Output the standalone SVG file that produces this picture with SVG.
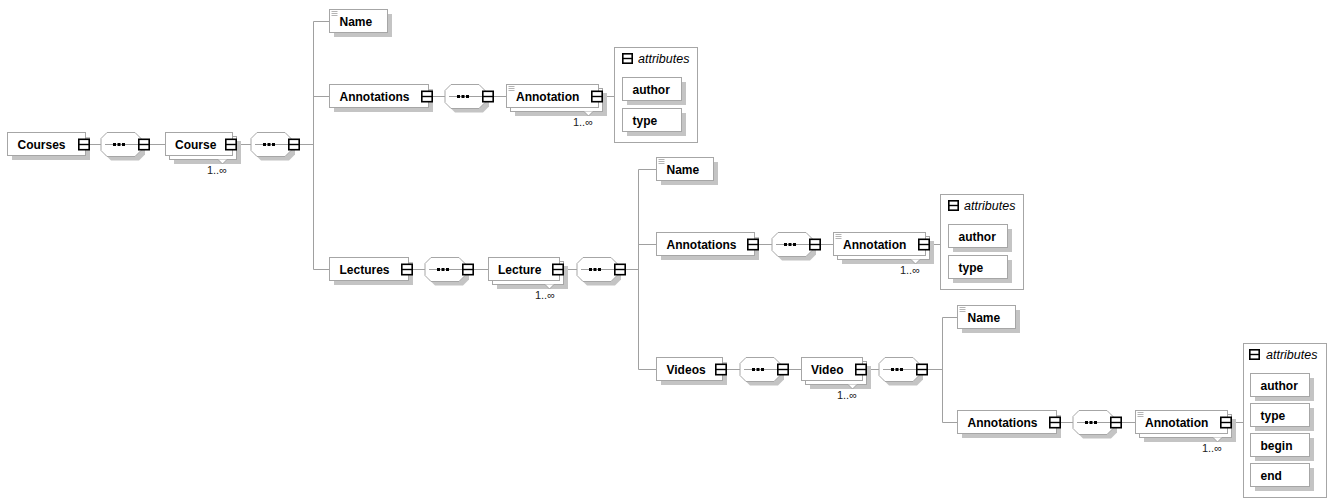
<svg xmlns="http://www.w3.org/2000/svg" xmlns:xlink="http://www.w3.org/1999/xlink" width="1336" height="502" viewBox="0 0 1336 502">
  <style>
    .bg { fill: #ffffff; }
    .box { fill: #ffffff; stroke: #a6a6a6; stroke-width: 1; }
    .shd { fill: #c4c4c4; stroke: none; }
    .frame { fill: #ffffff; stroke: #a6a6a6; stroke-width: 1; }
    .ln { fill: none; stroke: #a0a0a0; stroke-width: 1; }
    .doc { fill: none; stroke: #b4b4b4; stroke-width: 1; }
    .lbl { font-family: "Liberation Sans", Arial, sans-serif; font-size: 12px; font-weight: bold; fill: #000; }
    .occ { font-family: "Liberation Sans", Arial, sans-serif; font-size: 11px; fill: #222; }
    .hdr { font-family: "Liberation Sans", Arial, sans-serif; font-size: 12.5px; font-style: italic; fill: #000; }
  </style>
  <defs>
    <!-- collapse toggle: square with a bar -->
    <g id="minus">
      <rect x="0.8" y="-5.2" width="10.4" height="10.4" fill="#fff" stroke="#000" stroke-width="1.6"/>
      <line x1="0.8" y1="0" x2="11.2" y2="0" stroke="#000" stroke-width="1.4"/>
    </g>
    <!-- small toggle used in attribute headers -->
    <g id="minusSmall">
      <rect x="0.8" y="-4.7" width="9.4" height="9.4" fill="#fff" stroke="#000" stroke-width="1.6"/>
      <line x1="0.8" y1="0" x2="10.2" y2="0" stroke="#000" stroke-width="1.4"/>
    </g>
    <!-- sequence compositor (origin: left edge, vertical centre) -->
    <g id="seq">
      <polygon class="shd" points="10,-8 38,-8 44,-2 44,10 38,16 10,16 4,10 4,-2"/>
      <polygon class="box" points="6,-12 34,-12 40,-6 40,6 34,12 6,12 0,6 0,-6"/>
      <line class="ln" x1="4" y1="0" x2="37" y2="0"/>
      <rect x="12" y="-1.5" width="3" height="3" fill="#000"/>
      <rect x="16.5" y="-1.5" width="3" height="3" fill="#000"/>
      <rect x="21" y="-1.5" width="3" height="3" fill="#000"/>
      <use href="#minus" x="37" y="0"/>
    </g>
    <!-- "simple content" mark in the top-left corner of a box -->
    <path id="docmark" class="doc" d="M2,2 h6 M2,4 h6 M2,6 h6"/>
  </defs>

  <rect class="bg" x="0" y="0" width="1336" height="502"/>

  <!-- connectors -->
  <g id="connectors">
    <path class="ln" d="M90,144.5 H101 M150,144.5 H165.5 M237,144.5 H251 M300,144.5 H313.5"/>
    <path class="ln" d="M313.5,21.5 V269.5 M313.5,21.5 H329.5 M313.5,96.5 H329.5 M313.5,269.5 H329.5"/>
    <path class="ln" d="M433,96.5 H445 M494,96.5 H506.5 M603,96.5 H614.5"/>
    <path class="ln" d="M413,269.5 H425 M474,269.5 H488.5 M564,269.5 H577 M626,269.5 H638.5"/>
    <path class="ln" d="M638.5,169.5 V369.5 M638.5,169.5 H656.5 M638.5,244.5 H656.5 M638.5,369.5 H656.5"/>
    <path class="ln" d="M759,244.5 H772 M821,244.5 H833.5 M930,244.5 H940.5"/>
    <path class="ln" d="M727,369.5 H740 M789,369.5 H801.5 M867,369.5 H879 M928,369.5 H942.5"/>
    <path class="ln" d="M942.5,317.5 V422.5 M942.5,317.5 H957.5 M942.5,422.5 H957.5"/>
    <path class="ln" d="M1061,422.5 H1073 M1122,422.5 H1135.5 M1232,422.5 H1243.5"/>
  </g>

  <!-- root -->
  <g id="courses">
    <rect class="shd" x="12" y="137" width="78" height="23"/>
    <rect class="box" x="7.5" y="132.5" width="78" height="23"/>
    <text class="lbl" x="17.5" y="149">Courses</text>
    <use href="#minus" x="78" y="144.5"/>
  </g>
  <g id="courses-seq"><use href="#seq" x="101" y="144.5"/></g>

  <g id="course">
    <rect class="shd" x="174" y="141" width="67" height="23"/>
    <rect class="box" x="169.5" y="136.5" width="67" height="23"/>
    <polygon points="218,159.5 227,159.5 222.5,164" fill="#fff"/>
    <polyline class="ln" points="218,159.5 222.5,164 227,159.5"/>
    <rect class="box" x="165.5" y="132.5" width="67" height="23"/>
    <text class="lbl" x="175" y="149">Course</text>
    <use href="#minus" x="225" y="144.5"/>
    <text class="occ" x="227" y="174" text-anchor="end">1..∞</text>
  </g>
  <g id="course-seq"><use href="#seq" x="251" y="144.5"/></g>

  <!-- Course children -->
  <g id="course-name">
    <rect class="shd" x="334" y="14" width="58" height="23"/>
    <rect class="box" x="329.5" y="9.5" width="58" height="23"/>
    <use href="#docmark" x="329.5" y="9.5"/>
    <text class="lbl" x="339.5" y="26">Name</text>
  </g>

  <g id="course-annotations">
    <rect class="shd" x="334" y="89" width="99" height="23"/>
    <rect class="box" x="329.5" y="84.5" width="99" height="23"/>
    <text class="lbl" x="339.5" y="101">Annotations</text>
    <use href="#minus" x="421" y="96.5"/>
  </g>
  <g id="course-annotations-seq"><use href="#seq" x="445" y="96.5"/></g>
  <g id="course-annotation">
    <rect class="shd" x="515" y="93" width="92" height="23"/>
    <rect class="box" x="510.5" y="88.5" width="92" height="23"/>
    <polygon points="584,111.5 593,111.5 588.5,116" fill="#fff"/>
    <polyline class="ln" points="584,111.5 588.5,116 593,111.5"/>
    <rect class="box" x="506.5" y="84.5" width="92" height="23"/>
    <use href="#docmark" x="506.5" y="84.5"/>
    <text class="lbl" x="516" y="101">Annotation</text>
    <use href="#minus" x="591" y="96.5"/>
    <text class="occ" x="593" y="126" text-anchor="end">1..∞</text>
  </g>
  <g id="course-annotation-attributes">
    <rect class="frame" x="614.5" y="47.5" width="83" height="95"/>
    <use href="#minusSmall" x="622" y="58.5"/>
    <text class="hdr" x="638" y="63">attributes</text>
    <rect class="shd" x="627" y="82" width="59" height="23"/>
    <rect class="box" x="622.5" y="77.5" width="59" height="23"/>
    <text class="lbl" x="632.5" y="94">author</text>
    <rect class="shd" x="627" y="113" width="59" height="23"/>
    <rect class="box" x="622.5" y="108.5" width="59" height="23"/>
    <text class="lbl" x="632.5" y="125">type</text>
  </g>

  <g id="lectures">
    <rect class="shd" x="334" y="262" width="79" height="23"/>
    <rect class="box" x="329.5" y="257.5" width="79" height="23"/>
    <text class="lbl" x="339.5" y="274">Lectures</text>
    <use href="#minus" x="401" y="269.5"/>
  </g>
  <g id="lectures-seq"><use href="#seq" x="425" y="269.5"/></g>
  <g id="lecture">
    <rect class="shd" x="497" y="266" width="71" height="23"/>
    <rect class="box" x="492.5" y="261.5" width="71" height="23"/>
    <polygon points="545,284.5 554,284.5 549.5,289" fill="#fff"/>
    <polyline class="ln" points="545,284.5 549.5,289 554,284.5"/>
    <rect class="box" x="488.5" y="257.5" width="71" height="23"/>
    <text class="lbl" x="498" y="274">Lecture</text>
    <use href="#minus" x="552" y="269.5"/>
    <text class="occ" x="555" y="299" text-anchor="end">1..∞</text>
  </g>
  <g id="lecture-seq"><use href="#seq" x="577" y="269.5"/></g>

  <!-- Lecture children -->
  <g id="lecture-name">
    <rect class="shd" x="661" y="162" width="57" height="23"/>
    <rect class="box" x="656.5" y="157.5" width="57" height="23"/>
    <use href="#docmark" x="656.5" y="157.5"/>
    <text class="lbl" x="666.5" y="174">Name</text>
  </g>

  <g id="lecture-annotations">
    <rect class="shd" x="661" y="237" width="98" height="23"/>
    <rect class="box" x="656.5" y="232.5" width="98" height="23"/>
    <text class="lbl" x="666.5" y="249">Annotations</text>
    <use href="#minus" x="747" y="244.5"/>
  </g>
  <g id="lecture-annotations-seq"><use href="#seq" x="772" y="244.5"/></g>
  <g id="lecture-annotation">
    <rect class="shd" x="842" y="241" width="92" height="23"/>
    <rect class="box" x="837.5" y="236.5" width="92" height="23"/>
    <polygon points="911,259.5 920,259.5 915.5,264" fill="#fff"/>
    <polyline class="ln" points="911,259.5 915.5,264 920,259.5"/>
    <rect class="box" x="833.5" y="232.5" width="92" height="23"/>
    <use href="#docmark" x="833.5" y="232.5"/>
    <text class="lbl" x="843" y="249">Annotation</text>
    <use href="#minus" x="918" y="244.5"/>
    <text class="occ" x="920" y="274" text-anchor="end">1..∞</text>
  </g>
  <g id="lecture-annotation-attributes">
    <rect class="frame" x="940.5" y="194.5" width="83" height="95"/>
    <use href="#minusSmall" x="948" y="205.5"/>
    <text class="hdr" x="964" y="210">attributes</text>
    <rect class="shd" x="953" y="229" width="59" height="23"/>
    <rect class="box" x="948.5" y="224.5" width="59" height="23"/>
    <text class="lbl" x="958.5" y="241">author</text>
    <rect class="shd" x="953" y="260" width="59" height="23"/>
    <rect class="box" x="948.5" y="255.5" width="59" height="23"/>
    <text class="lbl" x="958.5" y="272">type</text>
  </g>

  <g id="videos">
    <rect class="shd" x="661" y="362" width="66" height="23"/>
    <rect class="box" x="656.5" y="357.5" width="66" height="23"/>
    <text class="lbl" x="666.5" y="374">Videos</text>
    <use href="#minus" x="715" y="369.5"/>
  </g>
  <g id="videos-seq"><use href="#seq" x="740" y="369.5"/></g>
  <g id="video">
    <rect class="shd" x="810" y="366" width="61" height="23"/>
    <rect class="box" x="805.5" y="361.5" width="61" height="23"/>
    <polygon points="848,384.5 857,384.5 852.5,389" fill="#fff"/>
    <polyline class="ln" points="848,384.5 852.5,389 857,384.5"/>
    <rect class="box" x="801.5" y="357.5" width="61" height="23"/>
    <text class="lbl" x="811" y="374">Video</text>
    <use href="#minus" x="855" y="369.5"/>
    <text class="occ" x="857" y="399" text-anchor="end">1..∞</text>
  </g>
  <g id="video-seq"><use href="#seq" x="879" y="369.5"/></g>

  <!-- Video children -->
  <g id="video-name">
    <rect class="shd" x="962" y="310" width="58" height="23"/>
    <rect class="box" x="957.5" y="305.5" width="58" height="23"/>
    <use href="#docmark" x="957.5" y="305.5"/>
    <text class="lbl" x="967.5" y="322">Name</text>
  </g>

  <g id="video-annotations">
    <rect class="shd" x="962" y="415" width="99" height="23"/>
    <rect class="box" x="957.5" y="410.5" width="99" height="23"/>
    <text class="lbl" x="967.5" y="427">Annotations</text>
    <use href="#minus" x="1049" y="422.5"/>
  </g>
  <g id="video-annotations-seq"><use href="#seq" x="1073" y="422.5"/></g>
  <g id="video-annotation">
    <rect class="shd" x="1144" y="419" width="92" height="23"/>
    <rect class="box" x="1139.5" y="414.5" width="92" height="23"/>
    <polygon points="1213,437.5 1222,437.5 1217.5,442" fill="#fff"/>
    <polyline class="ln" points="1213,437.5 1217.5,442 1222,437.5"/>
    <rect class="box" x="1135.5" y="410.5" width="92" height="23"/>
    <use href="#docmark" x="1135.5" y="410.5"/>
    <text class="lbl" x="1145" y="427">Annotation</text>
    <use href="#minus" x="1220" y="422.5"/>
    <text class="occ" x="1222" y="452" text-anchor="end">1..∞</text>
  </g>
  <g id="video-annotation-attributes">
    <rect class="frame" x="1243.5" y="343.5" width="83" height="154"/>
    <use href="#minusSmall" x="1249" y="354.5"/>
    <text class="hdr" x="1266" y="359">attributes</text>
    <rect class="shd" x="1255" y="378" width="59" height="23"/>
    <rect class="box" x="1250.5" y="373.5" width="59" height="23"/>
    <text class="lbl" x="1260.5" y="390">author</text>
    <rect class="shd" x="1255" y="408" width="59" height="23"/>
    <rect class="box" x="1250.5" y="403.5" width="59" height="23"/>
    <text class="lbl" x="1260.5" y="420">type</text>
    <rect class="shd" x="1255" y="438" width="59" height="23"/>
    <rect class="box" x="1250.5" y="433.5" width="59" height="23"/>
    <text class="lbl" x="1260.5" y="450">begin</text>
    <rect class="shd" x="1255" y="468" width="59" height="23"/>
    <rect class="box" x="1250.5" y="463.5" width="59" height="23"/>
    <text class="lbl" x="1260.5" y="480">end</text>
  </g>
</svg>
